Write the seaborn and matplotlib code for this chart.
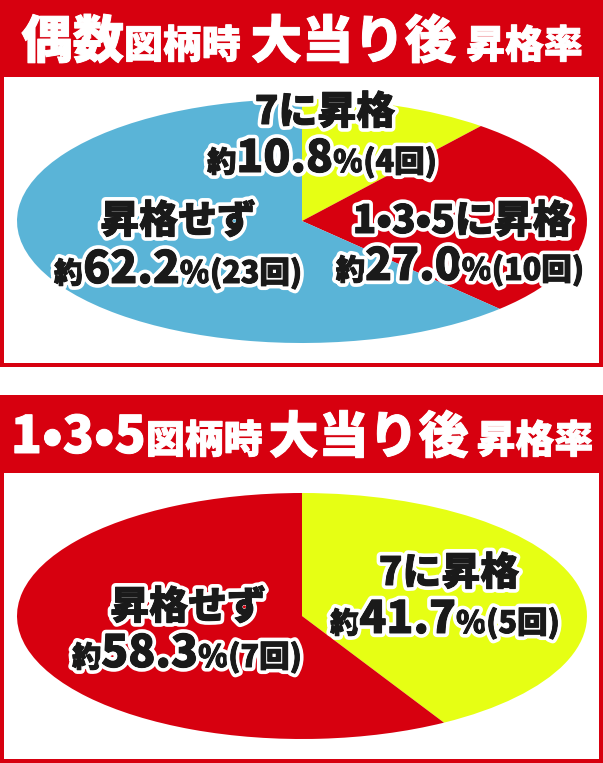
import matplotlib
matplotlib.use("Agg")
import matplotlib.pyplot as plt
import matplotlib.patheffects as pe
from matplotlib.patches import Rectangle
import seaborn as sns

# 偶数図柄時 大当り後 昇格率
even_labels = ["7に昇格", "1•3•5に昇格", "昇格せず"]
even_share = [10.8, 27.0, 62.2]
even_count = [4, 10, 23]

# 1・3・5図柄時 大当り後 昇格率
odd_labels = ["7に昇格", "昇格せず"]
odd_share = [41.7, 58.3]
odd_count = [5, 7]

RED = "#D7000F"
BLUE = "#5AB4D7"
YELLOW = "#E6FF14"
INK = "#1a1a1a"

sns.set_theme(style="white")
plt.rcParams["font.family"] = ["Noto Sans CJK JP", "DejaVu Sans"]

W, H = 603, 763
fig = plt.figure(figsize=(W / 100, H / 100), dpi=100)
renderer = fig.canvas.get_renderer()


def px_axes(x0, y0, x1, y1, z):
    ax = fig.add_axes([x0 / W, 1 - y1 / H, (x1 - x0) / W, (y1 - y0) / H], zorder=z)
    return ax


def overlay(z):
    ax = fig.add_axes([0, 0, 1, 1], zorder=z)
    ax.set_xlim(0, W)
    ax.set_ylim(H, 0)
    ax.axis("off")
    ax.patch.set_visible(False)
    return ax


def rich_text(ax, cx, base, runs, color, outline=None):
    # runs: (text, size) or a number meaning a gap in pixels
    effects = []
    if outline:
        effects.append(pe.withStroke(linewidth=outline, foreground="white"))
    # thin stroke in the text colour makes the glyphs a bit heavier
    effects.append(pe.withStroke(linewidth=0.7, foreground=color))
    items = []
    for run in runs:
        if isinstance(run, (int, float)):
            items.append((None, run))
            continue
        txt, size = run
        t = ax.text(0, base, txt, fontsize=size, fontweight="black", color=color,
                    ha="left", va="baseline")
        t.set_path_effects(effects)
        items.append((t, t.get_window_extent(renderer).width))
    total = sum(w for _, w in items)
    x = cx - total / 2
    for t, w in items:
        if t is not None:
            t.set_x(x)
        x += w


def label(ax, name, share, count, pos):
    cx1, b1, cx2, b2 = pos
    rich_text(ax, cx1, b1, [(name, 28)], INK, outline=6)
    rich_text(ax, cx2, b2, [("約", 21), (f"{share:.1f}", 32), ("%", 22),
                            (f"({count}回)", 22)], INK, outline=6)


def draw_pie(box, shares, colors):
    ax = px_axes(*box, z=1)
    ax.pie(shares, colors=colors, startangle=90, counterclock=False, radius=1,
           wedgeprops=dict(linewidth=0))
    ax.set_aspect("auto")
    ax.set_xlim(-1, 1)
    ax.set_ylim(-1, 1)
    ax.axis("off")
    return ax


# frames and header bands
bg = overlay(0)
for top, bottom, inner_top in [(0, 367, 77), (395, 763, 473)]:
    bg.add_patch(Rectangle((0, top), W, bottom - top, color=RED, lw=0))
    bg.add_patch(Rectangle((4, inner_top), W - 8, bottom - 4 - inner_top, color="white", lw=0))

draw_pie((17, 99, 587, 343), even_share, [YELLOW, RED, BLUE])
draw_pie((17, 493, 587, 739), odd_share, [YELLOW, RED])

fg = overlay(2)
rich_text(fg, 302, 58, [("偶数", 37), ("図柄時", 28), 10, ("大当り後", 37), 10, ("昇格率", 28)], "white")
rich_text(fg, 302, 453, [("1•3•5", 37), ("図柄時", 28), 6, ("大当り後", 36), 8, ("昇格率", 28)], "white")

even_pos = [(325, 124, 322, 172), (462, 233, 460, 280), (178, 233, 178, 283)]
for name, share, count, pos in zip(even_labels, even_share, even_count, even_pos):
    label(fg, name, share, count, pos)

odd_pos = [(449, 585, 445, 633), (188, 619, 187, 667)]
for name, share, count, pos in zip(odd_labels, odd_share, odd_count, odd_pos):
    label(fg, name, share, count, pos)

fig.savefig("out.png", dpi=100)
